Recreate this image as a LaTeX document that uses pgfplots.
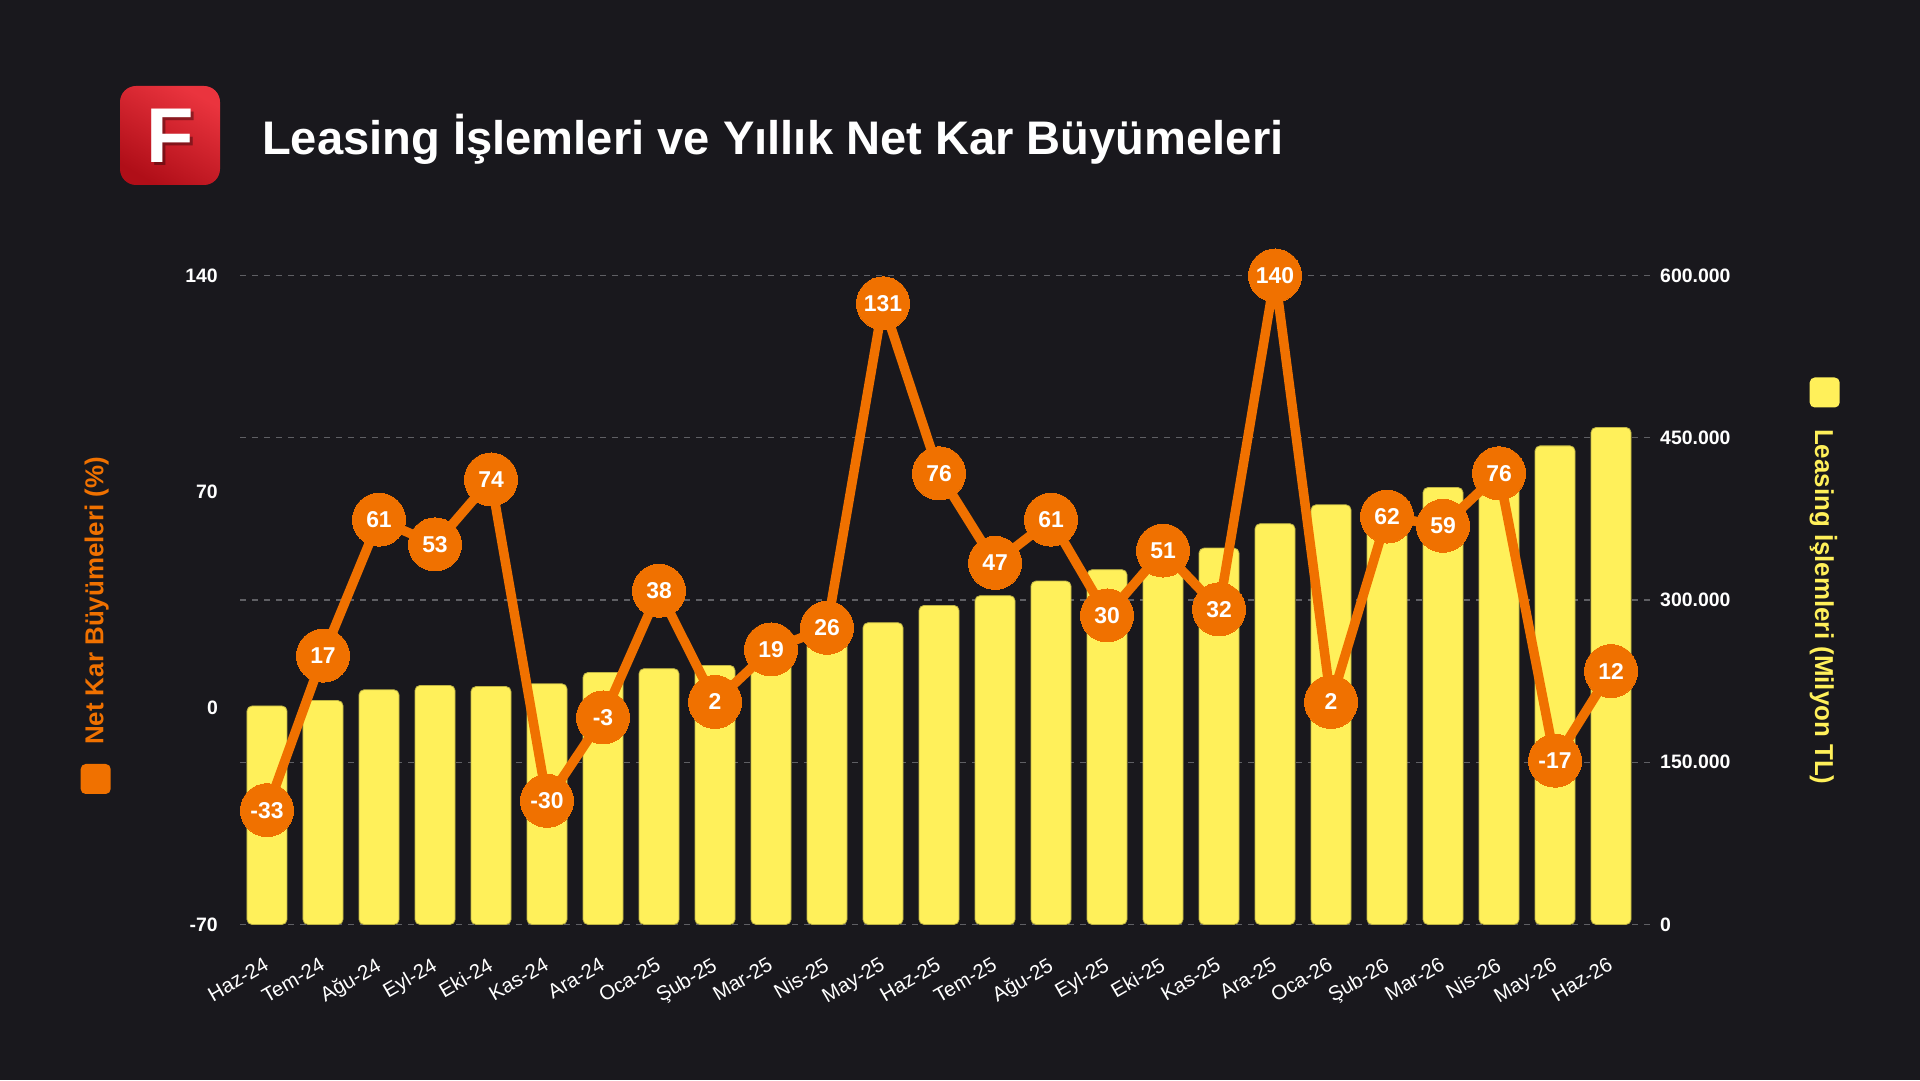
\documentclass[border=0pt]{standalone}
\usepackage{fontspec}
\setmainfont{Liberation Sans}
\usepackage{pgfplots}
\usepackage{pgfplotstable}
\pgfplotsset{compat=1.18}
\definecolor{bg}{RGB}{25,24,29}
\definecolor{lo}{RGB}{240,113,0}
\definecolor{ly}{RGB}{255,240,90}
\definecolor{gr}{RGB}{95,95,100}
\definecolor{lr1}{RGB}{234,52,62}
\definecolor{lr2}{RGB}{176,14,24}

\pgfplotstableread{
x v
0 202000
1 207000
2 217000
3 221000
4 220000
5 222500
6 233000
7 236500
8 239500
9 251000
10 262000
11 279000
12 295000
13 304000
14 317500
15 328000
16 336000
17 348000
18 370500
19 388000
20 395500
21 404000
22 418000
23 442500
24 459500
}\bars

\pgfplotstableread{
x g
0 -33
1 17
2 61
3 53
4 74
5 -30
6 -3
7 38
8 2
9 19
10 26
11 131
12 76
13 47
14 61
15 30
16 51
17 32
18 140
19 2
20 62
21 59
22 76
23 -17
24 12
}\growth

\begin{document}
\begin{tikzpicture}[x=1bp,y=1bp]
\fill[bg] (0,0) rectangle (1920,1080);
% logo
\shade[rounded corners=16bp, top color=lr1, bottom color=lr2, shading angle=-30] (120,895) rectangle (220,994);
\node[font=\bfseries\fontsize{78}{78}\selectfont, text=black, opacity=0.35] at (173,941.5) {F};
\node[font=\bfseries\fontsize{78}{78}\selectfont, text=white] at (170,944.5) {F};
% title
\node[anchor=base west, inner sep=0pt, font=\bfseries\fontsize{47.3}{50}\selectfont, text=white] at (262,925.7) {Leasing İşlemleri ve Yıllık Net Kar Büyümeleri};

% bars (right axis)
\begin{axis}[
  at={(240bp,155.5bp)}, anchor=south west,
  scale only axis, width=1413bp, height=649bp,
  xmin=-0.482, xmax=24.75, ymin=0, ymax=600000,
  axis y line*=right,
  axis line style={draw=none}, major tick length=0pt,
  scaled y ticks=false,
  ytick={0,150000,300000,450000,600000},
  yticklabels={0,150.000,300.000,450.000,600.000},
  ymajorgrids, grid style={gr, dash pattern=on 6bp off 6bp, line width=1.3bp},
  xtick={0,...,24},
  xticklabels={Haz-24,Tem-24,Ağu-24,Eyl-24,Eki-24,Kas-24,Ara-24,Oca-25,Şub-25,Mar-25,Nis-25,May-25,Haz-25,Tem-25,Ağu-25,Eyl-25,Eki-25,Kas-25,Ara-25,Oca-26,Şub-26,Mar-26,Nis-26,May-26,Haz-26},
  xticklabel style={font=\fontsize{20.5}{21}\selectfont, text=white, inner sep=0pt, anchor=north east, xshift=-4bp, yshift=-32bp, rotate=30},
  yticklabel style={font=\bfseries\fontsize{19.5}{20}\selectfont, text=white, inner sep=0pt, anchor=west, xshift=7bp},
  ybar, bar width=40bp,
]
\addplot[fill=ly, draw=ly!75!black, line width=0.8bp, rounded corners=5bp] table[x=x,y=v] {\bars};
\end{axis}

% growth line (left axis)
\begin{axis}[
  at={(240bp,155.5bp)}, anchor=south west,
  scale only axis, width=1413bp, height=649bp,
  xmin=-0.482, xmax=24.75, ymin=-70, ymax=140,
  axis y line*=left,
  axis line style={draw=none}, major tick length=0pt,
  xtick=\empty,
  ytick={-70,0,70,140},
  yticklabels={-70,0,70,140},
  yticklabel style={font=\bfseries\fontsize{19.5}{20}\selectfont, text=white, inner sep=0pt, anchor=east, xshift=-22bp},
  clip=false,
]
\addplot[lo, line width=9.5bp, line join=round, mark=*, mark size=26.5bp,
  mark options={fill=lo, draw=lo, line width=0pt},
  point meta=explicit symbolic,
  nodes near coords, nodes near coords align={center},
  every node near coord/.append style={font=\bfseries\fontsize{23}{23}\selectfont, text=white, inner sep=0pt, anchor=center}
] table[x=x,y=g,meta=g] {\growth};
\end{axis}

% axis titles and legend squares
\node[rotate=90, anchor=base, inner sep=0pt, font=\bfseries\fontsize{26}{26}\selectfont, text=lo] at (103.3,479) {Net Kar Büyümeleri (\%)};
\fill[lo, rounded corners=5bp] (80.7,286) rectangle (110.7,316);
\node[rotate=-90, anchor=base, inner sep=0pt, font=\bfseries\fontsize{26}{26}\selectfont, text=ly] at (1815,473.2) {Leasing İşlemleri (Milyon TL)};
\fill[ly, rounded corners=5bp] (1809.7,672.5) rectangle (1839.7,702.5);

\pgfresetboundingbox
\useasboundingbox (0,0) rectangle (1920,1080);
\end{tikzpicture}
\end{document}
